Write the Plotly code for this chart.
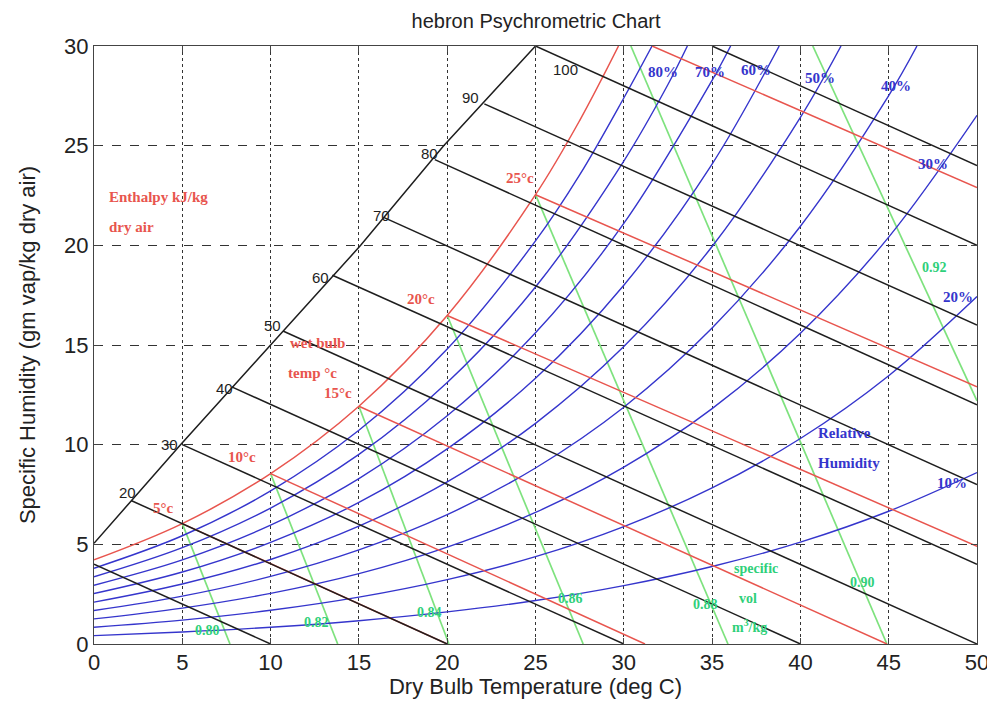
import plotly.graph_objects as go

# dry bulb temperatures (deg C) used for the humidity curves
t_db = [0, 5, 10, 15, 20, 25, 30, 35, 40, 45, 50]

# relative humidity curves, specific humidity in g/kg
rh10 = [0.42, 0.60, 0.84, 1.17, 1.61, 2.18, 2.93, 3.89, 5.11, 6.66, 8.60]
rh20 = [0.84, 1.20, 1.69, 2.35, 3.23, 4.38, 5.89, 7.83, 10.31, 13.46, 17.43]
rh30 = [1.26, 1.80, 2.54, 3.53, 4.86, 6.60, 8.87, 11.81, 15.59, 20.41, 26.52]
t_rh40 = [0, 5, 10, 15, 20, 25, 30, 35, 40, 45, 46.6]
rh40 = [1.68, 2.40, 3.39, 4.72, 6.49, 8.83, 11.88, 15.85, 20.96, 27.51, 30.0]
t_rh50 = [0, 5, 10, 15, 20, 25, 30, 35, 40, 42.3]
rh50 = [2.10, 3.01, 4.24, 5.91, 8.13, 11.07, 14.92, 19.94, 26.42, 30.0]
t_rh60 = [0, 5, 10, 15, 20, 25, 30, 35, 38.8]
rh60 = [2.53, 3.61, 5.10, 7.10, 9.79, 13.33, 18.00, 24.08, 30.0]
t_rh70 = [0, 5, 10, 15, 20, 25, 30, 35, 36.05]
rh70 = [2.95, 4.22, 5.96, 8.30, 11.45, 15.61, 21.10, 28.28, 30.0]
t_rh80 = [0, 5, 10, 15, 20, 25, 30, 32.5, 33.6]
rh80 = [3.37, 4.83, 6.82, 9.51, 13.12, 17.91, 24.23, 28.07, 30.0]
t_rh90 = [0, 5, 10, 15, 20, 25, 27.5, 30, 31.6]
rh90 = [3.80, 5.43, 7.68, 10.72, 14.80, 20.22, 23.53, 27.39, 30.0]

# saturation (wet bulb) curve
t_sat = [0, 5, 10, 15, 20, 25, 27.5, 29.7]
w_sat = [4.22, 6.04, 8.55, 11.93, 16.48, 22.54, 26.26, 30.0]

# enthalpy scale line
t_hax = [0, 4.9, 10, 15.1, 19.8, 25]
w_hax = [5.05, 10, 15, 20, 25, 30]

# enthalpy lines kJ/kg
h_vals = [10, 20, 30, 40, 50, 60, 70, 80, 90, 100, 110]
h_t0 = [0, 2.1, 5.0, 7.8, 10.7, 13.5, 16.4, 19.3, 22.1, 25.0, 35.0]
h_w0 = [4.0, 7.2, 10.0, 12.9, 15.7, 18.5, 21.4, 24.3, 27.1, 30.0, 30.0]
h_t1 = [10, 20, 30, 40, 50, 50, 50, 50, 50, 50, 50]
h_w1 = [0, 0, 0, 0, 0, 4.0, 8.0, 12.0, 16.0, 20.0, 24.0]

# wet bulb lines deg C
wb_vals = [5, 10, 15, 20, 25, 30]
wb_t0 = [5, 10, 15, 20, 25, 31.6]
wb_w0 = [6.04, 8.55, 11.93, 16.48, 22.54, 30.0]
wb_t1 = [20, 31.2, 44.9, 50, 50, 50]
wb_w1 = [0, 0, 0, 4.9, 12.9, 22.9]

# specific volume lines m^3/kg
v_vals = ["0.80", "0.82", "0.84", "0.86", "0.88", "0.90", "0.92"]
v_t0 = [5, 10, 15, 20, 25, 30.4, 40.7]
v_w0 = [6.04, 8.55, 11.93, 16.48, 22.54, 30.0, 30.0]
v_t1 = [7.7, 13.8, 20.1, 27.7, 35.9, 44.9, 50]
v_w1 = [0, 0, 0, 0, 0, 0, 12.2]

BLUE = "#3535cc"
RED = "#e8554e"
GREEN = "#7ee27e"
GTXT = "#2fd07a"
BLACK = "#1e1e1e"

fig = go.Figure()

for i in range(len(v_vals)):
    fig.add_trace(go.Scatter(x=[v_t0[i], v_t1[i]], y=[v_w0[i], v_w1[i]], mode="lines",
                             line=dict(color=GREEN, width=1.7), showlegend=False))

rh_t = [t_db, t_db, t_db, t_rh40, t_rh50, t_rh60, t_rh70, t_rh80, t_rh90]
rh_w = [rh10, rh20, rh30, rh40, rh50, rh60, rh70, rh80, rh90]
for tt, ww in zip(rh_t, rh_w):
    fig.add_trace(go.Scatter(x=tt, y=ww, mode="lines", line=dict(color=BLUE, width=1.4, shape="spline"),
                             showlegend=False))

fig.add_trace(go.Scatter(x=t_sat, y=w_sat, mode="lines", line=dict(color=RED, width=1.5, shape="spline"),
                         showlegend=False))
for i in range(len(wb_vals)):
    fig.add_trace(go.Scatter(x=[wb_t0[i], wb_t1[i]], y=[wb_w0[i], wb_w1[i]], mode="lines",
                             line=dict(color=RED, width=1.5), showlegend=False))

fig.add_trace(go.Scatter(x=t_hax, y=w_hax, mode="lines", line=dict(color=BLACK, width=1.5), showlegend=False))
for i in range(len(h_vals)):
    fig.add_trace(go.Scatter(x=[h_t0[i], h_t1[i]], y=[h_w0[i], h_w1[i]], mode="lines",
                             line=dict(color=BLACK, width=1.5), showlegend=False))

# labels
def lab(x, y, s, color, size=15, family="Liberation Serif", xanchor="center", bold=True):
    if bold:
        s = "<b>" + s + "</b>"
    fig.add_annotation(x=x, y=y, text=s, showarrow=False, xanchor=xanchor,
                       font=dict(color=color, size=size, family=family))

h_lx = [1.9, 4.3, 7.4, 10.1, 12.8, 16.3, 19.0, 21.3, 26.7]
h_ly = [7.6, 10.0, 12.8, 16.0, 18.4, 21.5, 24.6, 27.4, 28.8]
for i, v in enumerate(h_vals[1:10]):
    lab(h_lx[i], h_ly[i], str(v), BLACK, 15, "Liberation Sans", bold=False)

wb_lx = [3.9, 8.4, 13.8, 18.5, 24.1]
wb_ly = [6.8, 9.4, 12.6, 17.3, 23.4]
for i, v in enumerate(wb_vals[:5]):
    lab(wb_lx[i], wb_ly[i], "%d°c" % v, RED, 15)

rh_lab = ["10%", "20%", "30%", "40%", "50%", "60%", "70%", "80%"]
rh_lx = [48.6, 48.9, 47.5, 45.4, 41.1, 37.5, 34.9, 32.2]
rh_ly = [8.1, 17.4, 24.1, 28.0, 28.4, 28.8, 28.7, 28.7]
for i, s in enumerate(rh_lab):
    lab(rh_lx[i], rh_ly[i], s, BLUE, 15)

v_lx = [6.4, 12.6, 19.0, 27.0, 34.6, 43.5, 47.6]
v_ly = [0.7, 1.1, 1.6, 2.3, 2.0, 3.1, 18.9]
for i, s in enumerate(v_vals):
    lab(v_lx[i], v_ly[i], s, GTXT, 14)

lab(0.75, 22.4, "Enthalpy kJ/kg", RED, 15, xanchor="left")
lab(0.75, 20.9, "dry air", RED, 15, xanchor="left")
lab(11.0, 15.1, "wet bulb", RED, 15, xanchor="left")
lab(10.9, 13.6, "temp °c", RED, 15, xanchor="left")
lab(40.9, 10.6, "Relative", BLUE, 15, xanchor="left")
lab(40.9, 9.1, "Humidity", BLUE, 15, xanchor="left")
lab(36.1, 3.8, "specific", GTXT, 14, xanchor="left")
lab(36.4, 2.3, "vol", GTXT, 14, xanchor="left")
lab(36.0, 0.9, "m<sup>3</sup>/kg", GTXT, 14, xanchor="left")

axfont = dict(family="Liberation Sans, Arial", size=22, color="#222")
# the page body adds an 8 px offset, so the figure is a bit smaller than the window
fig.update_layout(
    width=987, height=703,
    margin=dict(l=86, r=18, t=38, b=67),
    plot_bgcolor="white", paper_bgcolor="white",
    title=dict(text="hebron Psychrometric Chart", x=0.535, xanchor="center", y=0.982, yanchor="middle",
               font=dict(family="Liberation Sans, Arial", size=20, color="#222")),
    xaxis=dict(range=[0, 50], dtick=5, showgrid=True, gridcolor="#333", griddash="dot", gridwidth=1.4,
               showline=True, linecolor="#444", linewidth=1.2, mirror="ticks", ticks="inside", ticklen=6,
               zeroline=False, tickfont=axfont, automargin=False, ticklabelstandoff=-2,
               title=dict(text="Dry Bulb Temperature (deg C)", font=axfont, standoff=2)),
    yaxis=dict(range=[0, 30], dtick=5, showgrid=True, gridcolor="#333", griddash="dash", gridwidth=1.2,
               showline=True, linecolor="#444", linewidth=1.2, mirror="ticks", ticks="inside", ticklen=6,
               zeroline=False, tickfont=axfont, automargin=False,
               title=dict(text="Specific Humidity (gm vap/kg dry air)", font=axfont, standoff=22)),
)

fig.write_html("out.html")
